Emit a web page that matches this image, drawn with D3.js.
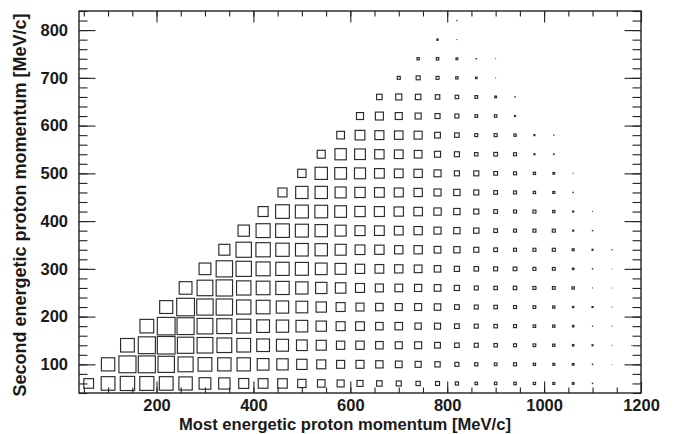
<!DOCTYPE html>
<html>
<head>
<meta charset="utf-8">
<script src="https://cdn.jsdelivr.net/npm/d3@7/dist/d3.min.js"></script>
<style>
  body { margin: 0; background: #fff; }
  text { font-family: "Liberation Sans", Arial, Helvetica, sans-serif; font-weight: bold; fill: #1a1a1a; }
</style>
</head>
<body>
<svg id="chart" width="687" height="434"></svg>
<script>
// histogram binning (MeV/c)
const binWidth = 40;
const rowCenters = [60, 100, 140, 180, 220, 260, 300, 340, 380, 420, 460, 500, 540, 580, 620, 660, 700, 740, 780, 820];
const rowFirstX  = [60, 100, 140, 180, 220, 260, 300, 340, 380, 420, 460, 500, 540, 580, 620, 660, 700, 740, 780, 820];

// bin contents, one array per row, left to right from rowFirstX
const row060 = [307, 580, 629, 604, 580, 549, 433, 406, 325, 307, 296, 232, 194, 172, 132, 113, 97, 75, 67, 47, 33, 33, 33, 29, 24, 20, 6];
const row100 = [549, 870, 870, 804, 687, 580, 549, 549, 433, 406, 343, 268, 217, 217, 185, 159, 132, 107, 67, 47, 37, 43, 29, 24, 20, 6, 1.7];
const row140 = [580, 870, 939, 804, 749, 662, 580, 504, 454, 368, 325, 232, 232, 194, 172, 172, 121, 81, 67, 54, 43, 37, 29, 17, 11, 2.7, 1];
const row180 = [580, 939, 870, 749, 687, 604, 504, 475, 433, 343, 268, 253, 194, 194, 143, 132, 87, 67, 54, 43, 33, 29, 17, 4, 2.7];
const row220 = [526, 939, 804, 804, 629, 580, 475, 433, 343, 268, 217, 194, 172, 172, 151, 87, 67, 54, 43, 37, 29, 14, 11, 2.7];
const row260 = [504, 749, 804, 629, 580, 549, 475, 406, 355, 268, 217, 203, 180, 159, 103, 67, 54, 54, 43, 37, 29, 2.7, 1.3];
const row300 = [433, 804, 713, 604, 549, 526, 433, 387, 285, 253, 232, 203, 151, 103, 81, 67, 59, 43, 39, 17, 6, 1.7];
const row340 = [387, 713, 629, 549, 504, 475, 387, 307, 285, 232, 232, 159, 143, 97, 59, 43, 43, 43, 24, 11, 4.5];
const row380 = [406, 604, 580, 526, 475, 387, 325, 307, 253, 232, 172, 143, 107, 59, 43, 43, 43, 11, 6];
const row420 = [325, 580, 526, 504, 433, 343, 325, 285, 242, 185, 143, 97, 59, 43, 43, 29, 11, 2.7];
const row460 = [268, 475, 475, 387, 343, 307, 268, 232, 172, 143, 97, 59, 43, 29, 24, 6];
const row500 = [232, 475, 433, 387, 307, 253, 232, 172, 97, 97, 59, 43, 29, 20, 2.7];
const row540 = [217, 406, 368, 285, 253, 203, 132, 97, 50, 59, 43, 11, 8];
const row580 = [203, 307, 268, 242, 217, 121, 81, 43, 43, 29, 11, 4.5];
const row620 = [172, 217, 172, 132, 97, 67, 37, 33, 11];
const row660 = [113, 132, 113, 81, 54, 37, 20, 6];
const row700 = [43, 67, 43, 29, 17, 2.7];
const row740 = [29, 33, 21, 6, 2.7];
const row780 = [14, 2.7];
const row820 = [4.5];
const rows = [row060, row100, row140, row180, row220, row260, row300, row340, row380, row420,
              row460, row500, row540, row580, row620, row660, row700, row740, row780, row820];
const maxContent = 1000;

const xTickLabels = [200, 400, 600, 800, 1000, 1200];
const yTickLabels = [100, 200, 300, 400, 500, 600, 700, 800];
const xTitle = "Most energetic proton momentum [MeV/c]";
const yTitle = "Second energetic proton momentum [MeV/c]";

// flatten into cells
const cells = [];
rows.forEach((vals, r) => {
    vals.forEach((v, i) => {
        cells.push({ x: rowFirstX[r] + i * binWidth, y: rowCenters[r], v: v });
    });
});

const svg = d3.select("#chart");
const padL = 79, padR = 641, padT = 11, padB = 393;

const x = d3.scaleLinear().domain([40, 1200]).range([padL, padR]);
const y = d3.scaleLinear().domain([40, 840]).range([padB, padT]);
const frac = d3.scaleSqrt().domain([0, maxContent]).range([0, 1]);

const bw = x(binWidth) - x(0);
const bh = y(0) - y(binWidth);

// boxes
const g = svg.append("g");
cells.forEach(c => {
    const f = frac(c.v);
    const w = f * bw, h = f * bh;
    if (w < 2) {
        g.append("rect")
            .attr("x", x(c.x) - w / 2).attr("y", y(c.y) - h / 2)
            .attr("width", Math.max(w, 0.8)).attr("height", Math.max(h, 0.8))
            .attr("fill", "#333");
    } else {
        g.append("rect")
            .attr("x", x(c.x) - w / 2 + 0.5).attr("y", y(c.y) - h / 2 + 0.5)
            .attr("width", w - 1).attr("height", h - 1)
            .attr("fill", "none")
            .attr("stroke", "#2a2a2a")
            .attr("stroke-width", 1.15);
    }
});

// axes (ticks pointing inside, ROOT style)
function styleAxis(sel) {
    sel.select(".domain").remove();
    sel.selectAll(".tick line").attr("stroke", "#222").attr("stroke-width", 1.1);
}
const xMinor = d3.range(50, 1200, 50);
const yMinor = d3.range(40, 841, 20);

svg.append("g").attr("transform", `translate(0,${padB})`)
    .call(d3.axisBottom(x).tickValues(xMinor).tickSize(-5.5).tickFormat(""))
    .call(styleAxis);
svg.append("g").attr("transform", `translate(0,${padB})`)
    .call(d3.axisBottom(x).tickValues(xTickLabels).tickSize(-11.5).tickPadding(6).tickFormat(d3.format("d")))
    .call(styleAxis)
    .call(s => s.selectAll("text").attr("font-size", 16.5).attr("fill", "#1a1a1a"));
svg.append("g").attr("transform", `translate(0,${padT})`)
    .call(d3.axisTop(x).tickValues(xMinor).tickSize(-5.5).tickFormat(""))
    .call(styleAxis);
svg.append("g").attr("transform", `translate(0,${padT})`)
    .call(d3.axisTop(x).tickValues(xTickLabels).tickSize(-11.5).tickFormat(""))
    .call(styleAxis);

svg.append("g").attr("transform", `translate(${padL},0)`)
    .call(d3.axisLeft(y).tickValues(yMinor).tickSize(-8.5).tickFormat(""))
    .call(styleAxis);
svg.append("g").attr("transform", `translate(${padL},0)`)
    .call(d3.axisLeft(y).tickValues(yTickLabels).tickSize(-16.5).tickPadding(11).tickFormat(d3.format("d")))
    .call(styleAxis)
    .call(s => s.selectAll("text").attr("font-size", 16.5).attr("fill", "#1a1a1a"));
svg.append("g").attr("transform", `translate(${padR},0)`)
    .call(d3.axisRight(y).tickValues(yMinor).tickSize(-8.5).tickFormat(""))
    .call(styleAxis);
svg.append("g").attr("transform", `translate(${padR},0)`)
    .call(d3.axisRight(y).tickValues(yTickLabels).tickSize(-16.5).tickFormat(""))
    .call(styleAxis);

// frame
svg.append("rect")
    .attr("x", padL).attr("y", padT)
    .attr("width", padR - padL).attr("height", padB - padT)
    .attr("fill", "none").attr("stroke", "#222").attr("stroke-width", 1.4);

// titles
svg.append("text")
    .attr("x", 345).attr("y", 430)
    .attr("text-anchor", "middle")
    .attr("font-size", 16.6)
    .text(xTitle);
svg.append("text")
    .attr("transform", `translate(26,205) rotate(-90)`)
    .attr("text-anchor", "middle")
    .attr("font-size", 18)
    .text(yTitle);
</script>
</body>
</html>
